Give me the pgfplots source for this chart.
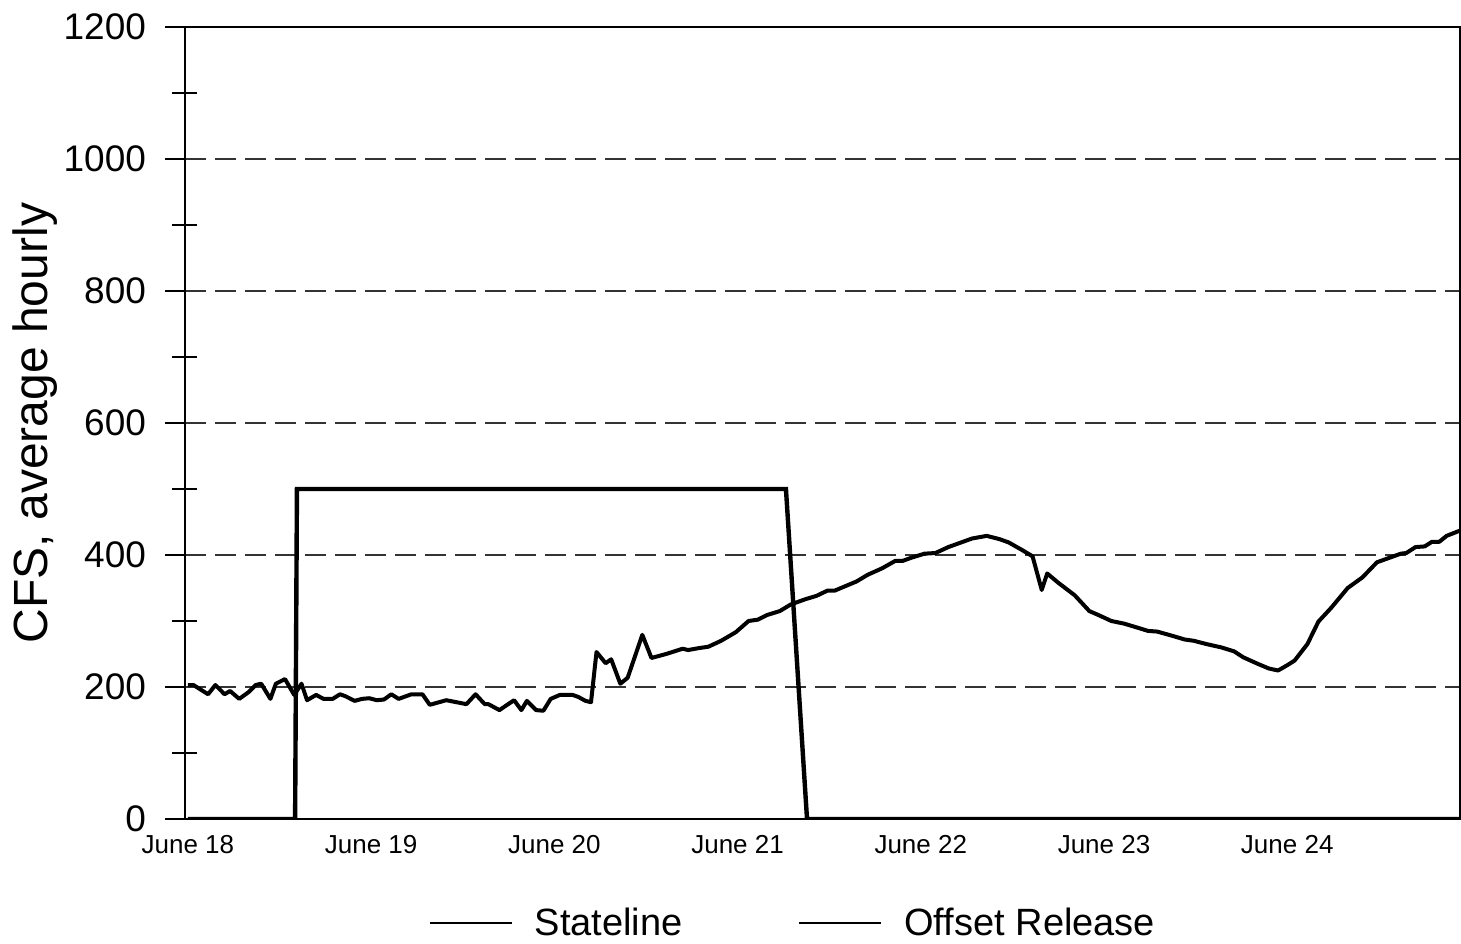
\documentclass[border=0pt]{standalone}
\usepackage{fontspec}
\setmainfont{Liberation Sans}
\usepackage{pgfplots}
\pgfplotsset{compat=1.18}

\begin{document}
\begin{tikzpicture}
\useasboundingbox (0,0) rectangle (730.5pt,471.5pt);
\begin{axis}[
  at={(92.5pt,62pt)}, anchor=south west,
  scale only axis, width=637.5pt, height=396pt,
  xmin=-0.016, xmax=6.943, ymin=0, ymax=1200,
  axis line style={black, line width=0.7pt},
  xtick={0,1,2,3,4,5,6},
  xticklabels={June 18,June 19,June 20,June 21,June 22,June 23,June 24},
  x tick style={draw=none},
  ytick={0,200,...,1200},
  minor y tick num=1,
  tick align=outside,
  major tick length=10pt,
  minor tick length=12.5pt,
  minor y tick style={xshift=6.25pt},
  every tick/.style={black, line width=0.6pt},
  /pgf/number format/assume math mode=true,
  /pgf/number format/1000 sep={},
  yticklabel style={font=\fontsize{18.5}{20}\selectfont, xshift=-6pt},
  xticklabel style={font=\fontsize{13}{15}\selectfont, yshift=5.5pt},
  ymajorgrids,
  major grid style={dash pattern=on 10.5pt off 4.5pt, line width=0.8pt, black!80},
  every axis y label/.style={at={(axis description cs:0,0.5)}, xshift=-75pt, rotate=90, anchor=center},
  ylabel={CFS, average hourly},
  ylabel style={font=\fontsize{24}{28}\selectfont},
  legend style={at={(0.4776,-0.131)}, anchor=center, draw=none, fill=none,
    legend columns=2, font=\fontsize{19}{22}\selectfont,
    /tikz/every even column/.append style={column sep=56pt}},
  legend image code/.code={\draw[#1, line width=0.8pt] (0pt,0pt) -- (41pt,0pt); \path[draw=none] (0pt,0pt) -- (50.5pt,0pt);},
]
\addplot[black, line width=2pt, line join=round] coordinates {
(0.00,203) (0.03,203) (0.11,189) (0.15,203) (0.20,189) (0.23,194) (0.28,182)
(0.33,192) (0.37,203) (0.40,205) (0.45,182) (0.48,205) (0.53,212) (0.58,188)
(0.62,205) (0.65,180) (0.70,188) (0.74,182) (0.79,182) (0.83,189) (0.86,186)
(0.91,179) (0.95,182) (0.99,183) (1.03,180) (1.07,181) (1.11,189) (1.15,182)
(1.22,189) (1.28,189) (1.32,173) (1.41,180) (1.52,174) (1.57,189) (1.62,174)
(1.64,174) (1.70,165) (1.78,180) (1.82,165) (1.85,179) (1.90,165) (1.94,164)
(1.98,182) (2.03,188) (2.10,188) (2.13,185) (2.17,179) (2.20,177) (2.23,253)
(2.28,236) (2.31,242) (2.36,205) (2.40,214) (2.48,279) (2.53,244) (2.61,250)
(2.70,258) (2.73,256) (2.79,259) (2.84,261) (2.91,270) (2.99,283) (3.06,300)
(3.11,302) (3.16,309) (3.23,315) (3.29,325) (3.37,333) (3.43,338) (3.49,346)
(3.53,346) (3.65,360) (3.71,370) (3.79,380) (3.86,391) (3.90,391) (3.95,396)
(4.02,402) (4.08,403) (4.15,412) (4.22,419) (4.28,425) (4.36,429) (4.43,424)
(4.48,419) (4.55,408) (4.61,398) (4.66,347) (4.69,372) (4.75,358) (4.84,339)
(4.92,315) (4.97,309) (5.04,300) (5.11,296) (5.17,291) (5.24,285) (5.29,284)
(5.38,277) (5.44,272) (5.49,270) (5.56,265) (5.64,260) (5.71,254) (5.76,245)
(5.84,235) (5.90,228) (5.95,225) (6.00,233) (6.04,240) (6.11,265) (6.17,299)
(6.24,320) (6.33,350) (6.41,366) (6.49,389) (6.56,396) (6.62,402) (6.65,403)
(6.70,412) (6.75,413) (6.79,420) (6.83,420) (6.87,429) (6.943,437)
};
\addlegendentry{Stateline}
\addplot[black, line width=2.2pt, line join=miter] coordinates {
(0,0) (0.585,0) (0.595,500) (3.264,500) (3.379,0) (6.943,0)
};
\addlegendentry{Offset Release}
\end{axis}
\end{tikzpicture}
\end{document}
